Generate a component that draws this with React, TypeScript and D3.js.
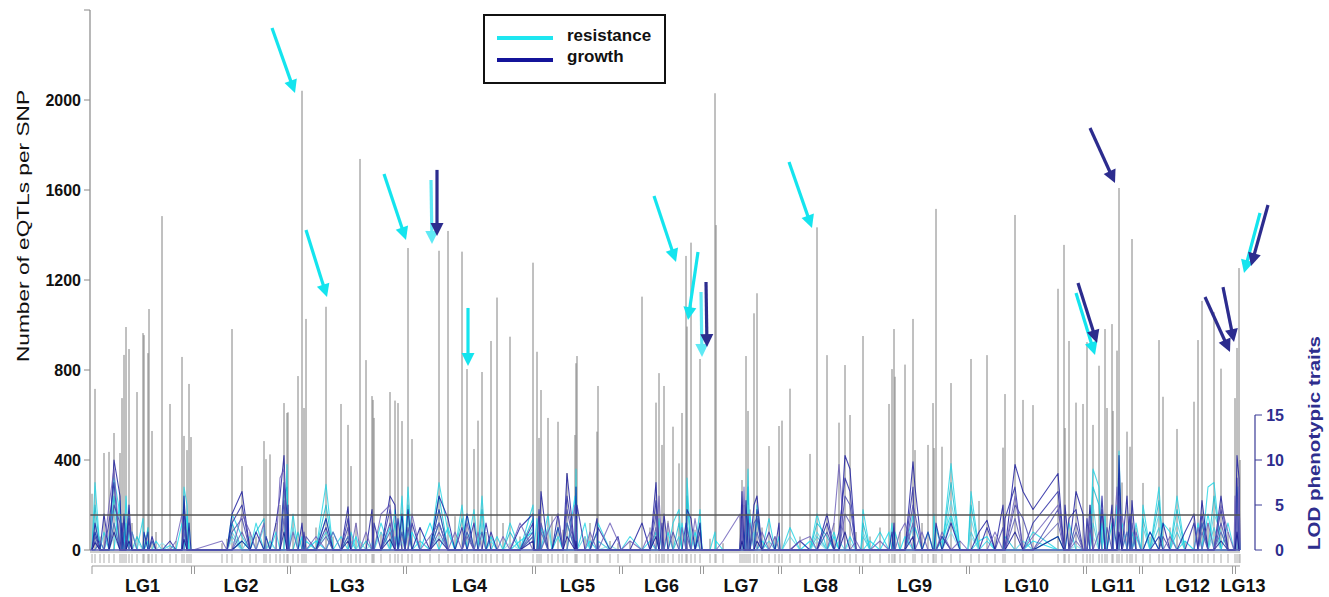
import React from "react";
import * as d3 from "d3";

// linkage groups: names and map breaks (cumulative map units)
const lgNames = ["LG1", "LG2", "LG3", "LG4", "LG5", "LG6", "LG7", "LG8", "LG9", "LG10", "LG11", "LG12", "LG13"];
const lgBreaks = [2, 103, 199, 315, 444, 531, 612, 690, 771, 878, 995, 1051, 1144, 1150];

// [map position, number of eQTLs at that SNP]
const eqtlPerSnp: [number, number][] = [
  [2, 250], [5, 716], [10, 60], [14, 431], [19, 436], [24, 520], [30, 431], [32, 675], [34, 867], [36, 991], [39, 893], [42, 120],
  [47, 702], [53, 964], [54, 955], [58, 875], [59, 1071], [62, 529], [66, 80], [72, 1484], [80, 649], [86, 40], [92, 858], [94, 507],
  [97, 444], [99, 738], [101, 502],
  [132, 30], [137, 50], [142, 982], [152, 373], [160, 80], [166, 60], [174, 484], [176, 404], [180, 425], [186, 120], [190, 200],
  [194, 653], [197, 609], [198, 612],
  [203, 150], [208, 773], [212, 2041], [214, 631], [216, 1027], [226, 100], [236, 1081], [243, 60], [251, 649], [258, 556], [261, 373],
  [266, 120], [270, 1738], [276, 844], [282, 684], [283, 667], [284, 587], [291, 80], [300, 702], [305, 664], [308, 653], [312, 573],
  [318, 1342], [322, 493], [330, 100], [340, 60], [349, 1330], [358, 1418], [365, 150], [372, 1326], [377, 804], [384, 449], [388, 575],
  [392, 791], [396, 80], [401, 929], [407, 1122], [413, 120], [420, 948], [430, 60], [443, 1277],
  [447, 881], [449, 498], [451, 711], [458, 587], [462, 150], [468, 570], [473, 90], [477, 342], [485, 511], [486, 830], [487, 862],
  [495, 60], [500, 120], [507, 526], [508, 729], [520, 40], [528, 30],
  [540, 40], [552, 1126], [560, 100], [566, 655], [569, 786], [572, 467], [574, 729], [578, 130], [583, 548], [589, 385], [592, 609],
  [596, 1307], [597, 993], [601, 1366], [605, 90], [610, 849],
  [620, 50], [625, 2030], [626, 1444], [633, 30], [650, 150], [652, 311], [654, 200], [656, 862], [658, 618], [660, 180], [664, 1052],
  [667, 1141], [672, 100], [679, 462], [685, 60], [689, 551],
  [692, 575], [700, 717], [710, 60], [720, 427], [727, 1434], [737, 866], [744, 120], [749, 566], [755, 822], [760, 600], [766, 80],
  [773, 951], [780, 60], [790, 100], [799, 649], [802, 804], [804, 982], [805, 770], [810, 80], [815, 824], [823, 1027], [825, 444],
  [832, 120], [838, 467], [843, 653], [844, 453], [846, 1516], [852, 459], [861, 742], [870, 40],
  [881, 849], [889, 218], [897, 866], [905, 60], [913, 455], [915, 693], [925, 1489], [933, 667], [943, 644],
  [968, 1161], [974, 1356], [975, 542], [979, 929], [986, 655], [993, 649],
  [997, 924], [1000, 200], [1003, 556], [1009, 819], [1012, 150], [1015, 982], [1017, 631], [1022, 1004], [1023, 618], [1027, 886],
  [1029, 1609], [1032, 300], [1037, 526], [1040, 459], [1042, 1382], [1046, 100],
  [1053, 298], [1060, 60], [1069, 933], [1073, 681], [1080, 100], [1087, 538], [1095, 40], [1104, 659], [1108, 933], [1112, 1107],
  [1118, 120], [1124, 1057], [1131, 806], [1138, 80],
  [1145, 675], [1147, 898], [1149, 1253], [1150, 400],
];

// LOD profiles, [map position, LOD]; LOD is 0 at every other SNP
const resistanceTraits: [number, number][][] = [
  [[5, 7.5], [14, 2], [24, 8], [30, 4], [36, 3], [53, 3.5], [66, 1], [80, 0.5], [94, 7], [97, 5],
   [142, 4], [152, 1.5], [166, 3], [180, 1], [197, 9.5],
   [203, 4], [216, 1], [236, 7.3], [251, 1.5], [261, 2], [283, 1], [291, 3], [305, 4.5], [312, 6],
   [318, 7], [330, 1], [349, 7.5], [358, 2], [372, 5], [384, 4.5], [392, 6], [407, 1.5], [420, 3], [443, 5],
   [447, 3.5], [458, 4], [468, 1.5], [486, 9], [495, 3], [508, 3],
   [540, 1.5], [569, 3.5], [583, 3], [589, 4.5], [597, 8], [610, 4.5],
   [625, 2], [652, 3], [658, 9], [667, 5], [679, 3.5],
   [700, 2.5], [727, 4], [744, 2], [760, 1.5],
   [773, 4.5], [790, 2], [802, 3], [823, 4], [844, 4], [861, 9.6],
   [881, 6.5], [897, 1], [943, 2], [979, 3],
   [1003, 9], [1009, 7], [1015, 4], [1029, 11], [1040, 3], [1046, 3],
   [1053, 5], [1069, 7], [1087, 6], [1118, 7], [1124, 7.5], [1138, 3],
   [1147, 7]],
  [[5, 5], [24, 6], [34, 2], [47, 1.5], [58, 2.5], [94, 5.5],
   [142, 3], [166, 2], [174, 3.5], [194, 6], [197, 7],
   [208, 2], [236, 5], [258, 1.5], [276, 1], [305, 3], [312, 4],
   [318, 5], [349, 6], [372, 3.5], [392, 4.5], [420, 2], [443, 3.5],
   [451, 2.5], [477, 3], [486, 7], [507, 2],
   [566, 2], [589, 3], [597, 6], [610, 3],
   [656, 3], [658, 7], [667, 3.5], [689, 1.5],
   [727, 3], [737, 1.5],
   [773, 3], [805, 2], [825, 2.5], [846, 2.5], [861, 7.5],
   [881, 5], [915, 1.5], [968, 1.5],
   [1003, 7], [1009, 5], [1022, 3], [1029, 8.5], [1042, 2],
   [1053, 3.5], [1069, 5.5], [1087, 4.5], [1112, 3], [1124, 6],
   [1147, 5]],
  [[5, 3.5], [19, 1.5], [24, 4.5], [39, 2], [54, 2], [94, 4], [99, 3],
   [142, 2], [160, 1.5], [174, 2.5], [197, 5],
   [203, 2.5], [236, 3.5], [270, 1], [291, 2], [312, 3],
   [318, 3.5], [349, 4.5], [377, 2], [392, 3], [401, 1], [443, 2.5],
   [458, 2.5], [486, 5], [495, 1.5],
   [569, 2], [597, 4], [601, 2],
   [658, 5], [664, 2],
   [700, 1.5], [727, 2], [749, 1],
   [773, 2], [823, 2.5], [861, 5.5],
   [881, 3.5], [933, 1],
   [1003, 5], [1015, 2.5], [1029, 6], [1037, 2],
   [1053, 2.5], [1069, 4], [1087, 3], [1124, 4], [1131, 2],
   [1147, 3.5]],
  [[5, 2], [24, 3], [36, 1.5], [62, 1], [94, 2.5],
   [142, 1.5], [176, 1.5], [197, 3.5],
   [236, 2], [261, 1], [305, 1.5], [312, 2],
   [318, 2], [349, 3], [388, 1.5], [392, 2], [443, 1.5],
   [486, 3.5], [508, 1],
   [589, 1.5], [597, 3],
   [658, 3], [679, 1],
   [727, 1.5],
   [773, 1.5], [861, 3.5],
   [881, 2],
   [1003, 3], [1029, 4],
   [1069, 2.5], [1087, 2], [1124, 2.5],
   [1147, 2]],
  [[10, 1], [30, 5.5], [36, 6], [42, 2], [58, 1], [92, 3], [97, 4],
   [152, 1], [186, 2], [198, 4],
   [212, 1.5], [226, 1], [243, 2], [266, 1.5], [300, 2.5],
   [322, 2], [340, 3], [358, 2.5], [377, 4], [401, 1.5], [430, 1], [443, 2],
   [449, 2], [468, 2.5], [485, 6], [500, 1],
   [560, 1], [578, 2], [592, 3], [605, 2],
   [626, 1], [654, 2], [660, 4], [672, 1],
   [720, 1], [744, 1.5],
   [780, 1], [799, 2], [815, 1.5], [838, 2], [852, 1], [861, 4],
   [889, 1], [897, 1.5], [943, 1],
   [1000, 2], [1012, 3], [1027, 5], [1032, 3], [1046, 1.5],
   [1060, 2], [1073, 3], [1080, 2], [1095, 1], [1108, 3], [1118, 4],
   [1149, 2.5]],
  [[5, 1], [24, 1.5], [47, 1], [72, 0.8], [94, 1.5],
   [142, 1], [180, 0.8], [197, 2],
   [236, 1.5], [282, 0.8], [312, 1],
   [349, 1.5], [392, 1.5], [420, 0.8],
   [486, 2], [520, 0.5],
   [597, 1.5], [610, 1],
   [658, 1.5],
   [727, 1], [760, 0.8],
   [861, 2],
   [881, 1.5], [986, 0.5],
   [1003, 1.5], [1029, 2],
   [1069, 1.5], [1124, 1.5],
   [1147, 1.2]],
];

const growthTraits: [number, number][][] = [
  [[5, 3], [14, 4], [24, 10], [30, 6], [34, 4], [39, 5], [54, 2], [62, 1.5], [80, 1], [94, 6], [99, 3],
   [142, 4], [152, 6.5], [166, 2], [186, 3], [190, 6], [194, 10.5], [198, 5],
   [212, 3], [236, 3.5], [258, 4.8], [282, 4.5], [300, 6], [305, 5], [312, 4],
   [318, 4.5], [330, 2.5], [349, 6], [358, 3.5], [377, 4], [396, 3], [430, 2.5], [443, 4],
   [451, 6.5], [468, 4], [477, 8.5], [486, 7], [507, 3.5], [528, 1.5],
   [552, 3], [566, 7.5], [574, 4], [597, 4.5], [601, 3.5], [610, 3],
   [652, 6.5], [656, 5.5], [664, 5], [667, 6], [689, 3],
   [710, 1], [737, 4], [755, 10.5], [760, 9],
   [804, 3], [823, 9.8], [825, 7], [846, 3], [861, 3],
   [889, 2], [897, 3.3], [913, 5], [925, 9.5], [933, 6.5], [943, 4.5], [968, 8.5], [975, 5], [986, 6.5], [993, 4],
   [1000, 5], [1012, 6], [1022, 5], [1029, 10.5], [1037, 6], [1042, 5.5],
   [1060, 2], [1073, 3], [1095, 2], [1104, 4], [1112, 5.5], [1131, 6],
   [1147, 10.5], [1149, 8]],
  [[5, 2], [19, 3], [24, 7.5], [32, 3], [39, 3.5], [58, 2], [94, 4.5],
   [142, 3], [152, 5], [176, 1.5], [194, 7.5], [197, 4],
   [214, 2], [236, 2.5], [258, 3.5], [284, 3], [300, 4.5], [308, 3.5],
   [322, 3], [349, 4.5], [372, 2.5], [384, 3], [401, 2], [443, 3],
   [449, 4.5], [468, 2.5], [477, 6], [487, 5], [508, 2.5],
   [566, 5.5], [572, 3], [596, 3], [610, 2],
   [652, 5], [658, 4], [667, 4.5], [679, 2],
   [737, 3], [749, 2], [755, 8], [760, 6.5],
   [802, 2], [823, 7], [838, 2], [852, 1.5],
   [897, 2.5], [915, 3.5], [925, 7], [943, 3], [968, 6.5], [979, 3.5], [986, 4.5],
   [997, 3.5], [1012, 4.5], [1023, 3.5], [1029, 8], [1040, 4],
   [1069, 1.5], [1104, 3], [1112, 4], [1131, 4.5],
   [1147, 8]],
  [[5, 1.5], [24, 5], [30, 3], [39, 2.5], [62, 1], [94, 3],
   [142, 2], [152, 3.5], [194, 5.5],
   [216, 1.5], [258, 2.5], [283, 2.5], [300, 3], [312, 2],
   [318, 2.5], [349, 3], [377, 2], [392, 2], [443, 2],
   [451, 3], [477, 4.5], [486, 3.5], [507, 2],
   [566, 4], [583, 2], [597, 2.5],
   [652, 3.5], [664, 3], [667, 3.5],
   [737, 2], [755, 6], [760, 5],
   [823, 5], [825, 4], [852, 1.5],
   [913, 2.5], [925, 5], [933, 3.5], [968, 4.5], [986, 3],
   [1000, 2.5], [1017, 2.5], [1029, 6], [1042, 3],
   [1073, 1.5], [1112, 3], [1131, 3],
   [1147, 6]],
  [[5, 1], [24, 3], [36, 1.5], [94, 2],
   [152, 2], [194, 3.5],
   [236, 1.5], [258, 1.5], [300, 2],
   [349, 2], [377, 1.5], [443, 1.5],
   [451, 2], [477, 3], [486, 2],
   [566, 2.5], [597, 1.5],
   [652, 2], [667, 2],
   [755, 4], [760, 3],
   [823, 3],
   [925, 3.5], [968, 3], [986, 2],
   [1029, 4], [1037, 2],
   [1112, 2], [1131, 2],
   [1147, 4]],
  [[10, 1], [19, 5], [24, 9], [42, 2], [86, 1], [92, 4],
   [132, 1], [152, 4], [160, 2], [174, 3], [190, 8], [194, 9],
   [203, 2], [226, 1.5], [243, 2], [266, 3], [276, 2], [291, 4], [300, 5],
   [322, 4], [340, 1.5], [349, 3], [365, 2], [377, 3], [388, 2], [413, 1.5], [430, 3],
   [458, 2], [462, 3], [468, 4], [485, 5], [500, 2], [520, 3], [528, 1],
   [540, 1], [560, 2], [569, 6], [578, 3], [592, 2.5], [605, 3.5],
   [633, 1], [650, 4], [654, 7], [660, 3], [672, 2], [685, 1.5],
   [710, 1], [720, 1.5], [744, 3], [749, 9.5], [766, 1],
   [790, 1], [810, 2], [815, 3], [832, 2], [852, 2], [870, 1],
   [905, 2], [925, 6], [943, 1.5], [968, 5], [986, 1],
   [1000, 3.5], [1009, 2], [1027, 7], [1032, 4], [1046, 2],
   [1080, 1.5], [1108, 2.5], [1118, 3], [1131, 5], [1138, 2],
   [1145, 6], [1149, 7]],
  [[5, 0.8], [24, 2], [39, 1], [94, 1.2],
   [152, 1], [194, 2],
   [258, 1], [300, 1.2],
   [349, 1.2], [443, 1],
   [477, 1.5], [486, 1],
   [566, 1.5],
   [652, 1], [667, 1],
   [755, 2],
   [823, 1.5],
   [925, 2], [968, 1.5],
   [1029, 2],
   [1131, 1],
   [1147, 2]],
];

const leftTicks = [0, 400, 800, 1200, 1600, 2000];
const rightTicks = [0, 5, 10, 15];
const lodThreshold = 3.9;

// arrows: target SNP position, eQTL count at tip, series
const arrowPos = [205, 237, 316, 342, 347, 378, 586, 598, 612, 617, 722, 1025, 1005, 1007, 1140, 1144, 1154, 1161];
const arrowCount = [2031, 1124, 1378, 1360, 1396, 818, 1280, 1022, 858, 902, 1431, 1631, 867, 920, 880, 924, 1231, 1262];
const arrowSeries = ["r", "r", "r", "r2", "g", "r", "r", "r", "r2", "g", "r", "g", "r", "g", "g", "g", "r", "g"];
// layout: tail offset of each arrow from its tip
const arrowTail: [number, number][] = [
  [-23, -65], [-21, -67], [-22, -66], [-1, -64], [0, -66], [0, -58], [-22, -66], [10, -68], [-1, -65], [-1, -65],
  [-23, -66], [-25, -55], [-19, -62], [-19, -60], [-25, -55], [-11, -55], [16, -60], [17, -61],
];

const W = 1329;
const H = 597;
const font = "'Liberation Sans', Arial, sans-serif";

const x = d3.scaleLinear().domain([0, 1150]).range([90, 1240]);
const yL = d3.scaleLinear().domain([0, 2400]).range([550, 10]);
const yR = d3.scaleLinear().domain([0, 60]).range([550, 10]);

const resColors = ["#1fd3e4", "#12bdd0", "#56d6e4", "#3cc4d6", "#10dcee", "#8adfe9"];
const growColors = ["#16169c", "#2424a2", "#4444aa", "#5a5ab2", "#6a5cb8", "#10108f"];
const arrowColors: Record<string, string> = { r: "#14e4ee", r2: "#5fe9f4", g: "#2c2c8e" };

const snpPositions = eqtlPerSnp.map((d) => d[0]);

// a trait's profile across every SNP of the map, zero at unlisted SNPs
function traitPoints(trait: [number, number][]) {
  const lod = new Map(trait.map((p) => [p[0], p[1]]));
  const all = Array.from(new Set([...snpPositions, ...trait.map((p) => p[0])])).sort((a, b) => a - b);
  const pts: [number, number][] = [];
  for (let i = 0; i < lgNames.length; i++) {
    const s = lgBreaks[i];
    const e = lgBreaks[i + 1];
    pts.push([s, 0]);
    all.filter((p) => p > s && p < e).forEach((p) => pts.push([p, lod.get(p) ?? 0]));
    pts.push([e, lod.get(e) ?? 0]);
  }
  return pts;
}

const lodLine = d3
  .line<[number, number]>()
  .x((d) => x(d[0]))
  .y((d) => yR(d[1]));

export default function App() {
  const x0 = x(0);
  const x1 = x(1150);
  return (
    <svg width={W} height={H} style={{ position: "absolute", left: 0, top: 0, background: "#fff" }} fontFamily={font}>
      {/* eQTL spikes */}
      <g stroke="#828282" strokeWidth={1}>
        {eqtlPerSnp.map((d, i) => (
          <line key={i} x1={x(d[0])} x2={x(d[0])} y1={yL(0)} y2={yL(d[1])} />
        ))}
      </g>

      {/* LOD traces */}
      <g fill="none" strokeWidth={1.1} strokeOpacity={0.8} strokeLinejoin="round">
        {resistanceTraits.map((t, i) => (
          <path key={"r" + i} d={lodLine(traitPoints(t)) || ""} stroke={resColors[i % resColors.length]} />
        ))}
        {growthTraits.map((t, i) => (
          <path key={"g" + i} d={lodLine(traitPoints(t)) || ""} stroke={growColors[i % growColors.length]} />
        ))}
      </g>

      {/* threshold and zero lines */}
      <line x1={x0} x2={x1} y1={yR(lodThreshold)} y2={yR(lodThreshold)} stroke="#555" strokeWidth={1.5} />
      <line x1={x0} x2={x1} y1={yL(0)} y2={yL(0)} stroke="#5a5ab0" strokeWidth={1.3} />
      <line x1={x0} x2={x1} y1={yL(0) + 2} y2={yL(0) + 2} stroke="#9a9a9a" strokeWidth={1} />

      {/* SNP markers */}
      <g stroke="#999" strokeWidth={0.8}>
        {eqtlPerSnp.map((d, i) => (
          <line key={i} x1={x(d[0])} x2={x(d[0])} y1={554} y2={563} />
        ))}
      </g>
      <line x1={x(lgBreaks[0])} x2={x1} y1={566} y2={566} stroke="#9a9a9a" strokeWidth={1} />
      <g stroke="#9a9a9a" strokeWidth={1}>
        <line x1={x(lgBreaks[0])} x2={x(lgBreaks[0])} y1={566} y2={574} />
        {lgBreaks.slice(1, -1).map((b, i) => (
          <g key={i}>
            <line x1={x(b) - 1.5} x2={x(b) - 1.5} y1={566} y2={574} />
            <line x1={x(b) + 1.5} x2={x(b) + 1.5} y1={566} y2={574} />
          </g>
        ))}
      </g>
      <g fontSize={18} fontWeight="bold" textAnchor="middle" fill="#111">
        {lgNames.map((n, i) => {
          const c = (x(lgBreaks[i]) + x(lgBreaks[i + 1])) / 2;
          const shift = i === lgNames.length - 1 ? 6 : 0;
          return (
            <text key={n} x={c + shift} y={592}>
              {n}
            </text>
          );
        })}
      </g>

      {/* left axis */}
      <line x1={90} x2={90} y1={yL(2400)} y2={yL(0)} stroke="#888" strokeWidth={1.2} />
      <g stroke="#888">
        {[...leftTicks, 2400].map((t) => (
          <line key={t} x1={84} x2={90} y1={yL(t)} y2={yL(t)} />
        ))}
      </g>
      <g fontSize={16} fontWeight="bold" textAnchor="end" fill="#111">
        {leftTicks.map((t) => (
          <text key={t} x={81} y={yL(t)} dy="0.36em">
            {t}
          </text>
        ))}
      </g>
      <text
        transform="translate(29,226) rotate(-90)"
        textAnchor="middle"
        fontSize={17}
        fill="#111"
        textLength={272}
        lengthAdjust="spacingAndGlyphs"
      >
        Number of eQTLs per SNP
      </text>

      {/* right axis */}
      <line x1={1255} x2={1255} y1={yR(0)} y2={yR(15)} stroke="#3a3a96" strokeWidth={1.2} />
      <g stroke="#3a3a96">
        {rightTicks.map((t) => (
          <line key={t} x1={1255} x2={1262} y1={yR(t)} y2={yR(t)} />
        ))}
      </g>
      <g fontSize={16} fontWeight="bold" textAnchor="end" fill="#2e2e8e">
        {rightTicks.map((t) => (
          <text key={t} x={1284} y={yR(t)} dy="0.36em">
            {t}
          </text>
        ))}
      </g>
      <text
        transform="translate(1320,443) rotate(-90)"
        textAnchor="middle"
        fontSize={17}
        fontWeight="bold"
        fill="#2e2e8e"
        textLength={214}
        lengthAdjust="spacingAndGlyphs"
      >
        LOD phenotypic traits
      </text>

      {/* arrows */}
      {arrowPos.map((p, i) => {
        const tx = x(p);
        const ty = yL(arrowCount[i]);
        const [dx, dy] = arrowTail[i];
        const len = Math.hypot(dx, dy);
        const ux = -dx / len;
        const uy = -dy / len;
        const hl = 13;
        const hw = 6.5;
        const bx = tx - ux * hl;
        const by = ty - uy * hl;
        const col = arrowColors[arrowSeries[i]];
        return (
          <g key={i}>
            <line x1={tx + dx} y1={ty + dy} x2={bx + ux * 2} y2={by + uy * 2} stroke={col} strokeWidth={3.2} />
            <path
              d={`M${tx},${ty}L${bx - uy * hw},${by + ux * hw}L${bx + uy * hw},${by - ux * hw}Z`}
              fill={col}
            />
          </g>
        );
      })}

      {/* legend */}
      <rect x={484} y={15} width={181} height={68} fill="#fff" stroke="#111" strokeWidth={2} />
      <line x1={497} x2={553} y1={38} y2={38} stroke="#1ee6f0" strokeWidth={4} />
      <line x1={497} x2={553} y1={60} y2={60} stroke="#14149a" strokeWidth={4} />
      <g fontSize={17} fontWeight="bold" fill="#111">
        <text x={567} y={41}>resistance</text>
        <text x={567} y={62}>growth</text>
      </g>
    </svg>
  );
}
